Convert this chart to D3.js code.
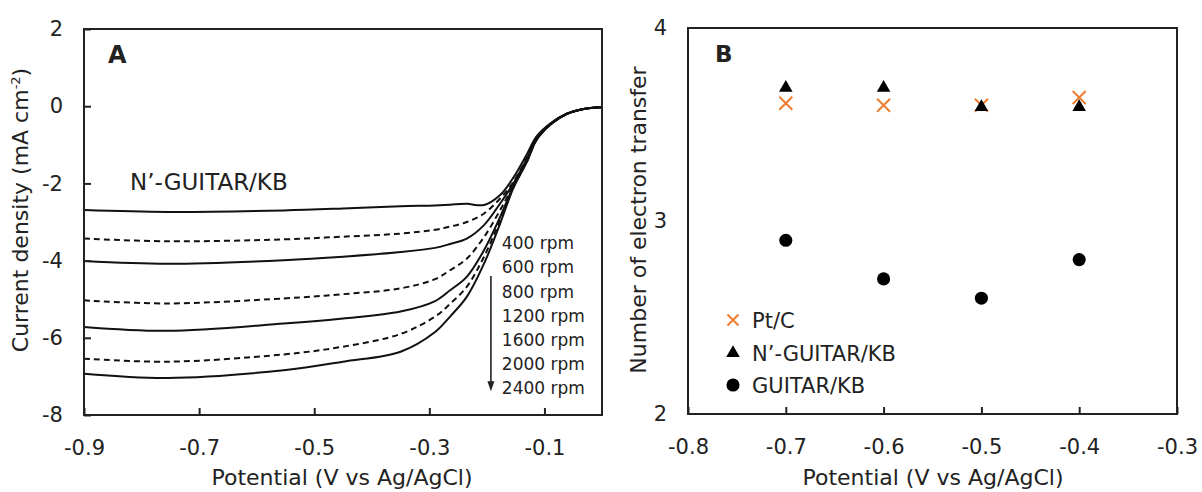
<!DOCTYPE html>
<html>
<head>
<meta charset="utf-8">
<script src="https://cdn.jsdelivr.net/npm/d3@7"></script>
<style>
  body { margin: 0; background: #fff; }
  text { font-family: "DejaVu Sans", sans-serif; fill: #222; }
</style>
</head>
<body>
<div id="chart"></div>
<script>
////////////////////////////////////////////////////////////////////////
// Data

// Panel A: linear sweep voltammograms, one current array per rotation rate
let potentialA = [-0.9, -0.755, -0.553, -0.45, -0.35, -0.29, -0.264, -0.235, -0.205,
                  -0.177, -0.154, -0.13, -0.114, -0.09, -0.061, -0.038, -0.015, 0];
let rpmLabels = ["400 rpm", "600 rpm", "800 rpm", "1200 rpm", "1600 rpm", "2000 rpm", "2400 rpm"];
let current400  = [-2.69, -2.74, -2.70, -2.65, -2.59, -2.57, -2.55, -2.53, -2.56, -2.30, -1.85, -1.23, -0.79, -0.45, -0.19, -0.09, -0.04, -0.03];
let current600  = [-3.43, -3.50, -3.45, -3.38, -3.30, -3.20, -3.12, -3.00, -2.78, -2.39, -1.96, -1.32, -0.83, -0.46, -0.20, -0.09, -0.04, -0.03];
let current800  = [-4.01, -4.08, -3.99, -3.90, -3.78, -3.67, -3.57, -3.43, -3.08, -2.52, -2.00, -1.35, -0.85, -0.47, -0.20, -0.09, -0.04, -0.03];
let current1200 = [-5.03, -5.11, -4.98, -4.87, -4.72, -4.48, -4.25, -3.95, -3.39, -2.69, -2.05, -1.38, -0.86, -0.47, -0.20, -0.09, -0.04, -0.03];
let current1600 = [-5.72, -5.82, -5.63, -5.50, -5.32, -5.05, -4.77, -4.42, -3.73, -2.87, -2.08, -1.40, -0.87, -0.48, -0.20, -0.09, -0.04, -0.03];
let current2000 = [-6.54, -6.62, -6.43, -6.23, -5.90, -5.45, -5.12, -4.68, -3.90, -2.95, -2.10, -1.42, -0.88, -0.48, -0.20, -0.09, -0.04, -0.03];
let current2400 = [-6.93, -7.04, -6.84, -6.62, -6.36, -5.85, -5.45, -4.94, -4.08, -3.04, -2.12, -1.43, -0.88, -0.48, -0.20, -0.09, -0.04, -0.03];
let dashedA = [false, true, false, true, false, true, false];

// Panel B: number of electrons transferred
let potentialB = [-0.7, -0.6, -0.5, -0.4];
let electronsPtC     = [3.61, 3.60, 3.60, 3.64];
let electronsNGuitar = [3.69, 3.69, 3.59, 3.59];
let electronsGuitar  = [2.90, 2.70, 2.60, 2.80];

let xTicksA = [-0.9, -0.7, -0.5, -0.3, -0.1];
let yTicksA = [-8, -6, -4, -2, 0, 2];
let xTicksB = [-0.8, -0.7, -0.6, -0.5, -0.4, -0.3];
let yTicksB = [2, 3, 4];

////////////////////////////////////////////////////////////////////////
// Layout

let width = 1202, height = 492;
let orange = "#ed7d31";

let xA = d3.scaleLinear().domain([-0.9, 0]).range([84, 602]);
let yA = d3.scaleLinear().domain([-8, 2]).range([415, 29]);
let xB = d3.scaleLinear().domain([-0.8, -0.3]).range([688, 1177]);
let yB = d3.scaleLinear().domain([2, 4]).range([414, 28]);

let svg = d3.select("#chart").append("svg")
    .attr("width", width)
    .attr("height", height);

svg.append("rect").attr("width", width).attr("height", height).attr("fill", "#fff");

// draws ticks (inward) and labels for one panel, then the frame on top
function drawAxes(x, y, xTicks, yTicks, yTickLen) {
  let fmtX = d => d.toFixed(1);
  let gx = svg.append("g")
      .attr("transform", "translate(0," + y.range()[0] + ")")
      .call(d3.axisBottom(x).tickValues(xTicks).tickFormat(fmtX)
            .tickSize(-7).tickSizeOuter(0).tickPadding(25));
  let gy = svg.append("g")
      .attr("transform", "translate(" + x.range()[0] + ",0)")
      .call(d3.axisLeft(y).tickValues(yTicks).tickFormat(d => d)
            .tickSize(-yTickLen).tickSizeOuter(0).tickPadding(21));
  [gx, gy].forEach(g => {
    g.select(".domain").remove();
    g.selectAll("line").attr("stroke", "#222").attr("stroke-width", 2);
    g.selectAll("text").attr("font-size", 21).attr("fill", "#222")
      .attr("font-family", "DejaVu Sans, sans-serif");
  });
  svg.append("rect")
      .attr("x", x.range()[0]).attr("y", y.range()[1])
      .attr("width", x.range()[1] - x.range()[0])
      .attr("height", y.range()[0] - y.range()[1])
      .attr("fill", "none").attr("stroke", "#222").attr("stroke-width", 2);
}

////////////////////////////////////////////////////////////////////////
// Panel A

let seriesA = [current400, current600, current800, current1200, current1600, current2000, current2400];

let line = d3.line()
    .x(d => xA(d[0]))
    .y(d => yA(d[1]))
    .curve(d3.curveCatmullRom.alpha(0.5));

svg.append("g").selectAll("path")
    .data(seriesA)
    .enter()
    .append("path")
    .attr("d", (cur) => line(potentialA.map((p, i) => [p, cur[i]])))
    .attr("fill", "none")
    .attr("stroke", "#111")
    .attr("stroke-width", 2)
    .attr("stroke-dasharray", (d, i) => dashedA[i] ? "6,4" : null);

drawAxes(xA, yA, xTicksA, yTicksA, 7);

svg.append("text")
    .attr("x", xA(-0.82)).attr("y", yA(-2.18))
    .attr("font-size", 23)
    .text("N\u2019-GUITAR/KB");

svg.append("text")
    .attr("x", 108).attr("y", 63)
    .attr("font-size", 24).attr("font-weight", "bold")
    .text("A");

// rotation rate labels + arrow
svg.append("g").selectAll("text")
    .data(rpmLabels)
    .enter()
    .append("text")
    .attr("x", xA(-0.174))
    .attr("y", (d, i) => yA(-3.55 - i * 0.625))
    .attr("dy", "0.36em")
    .attr("font-size", 17)
    .text(d => d);

let arrowX = xA(-0.193), arrowY0 = yA(-4.4), arrowY1 = yA(-7.15);
svg.append("line")
    .attr("x1", arrowX).attr("x2", arrowX)
    .attr("y1", arrowY0).attr("y2", arrowY1)
    .attr("stroke", "#222").attr("stroke-width", 1.6);

svg.append("path")
    .attr("d", "M" + (arrowX - 3.5) + "," + (arrowY1 - 1) + "L" + (arrowX + 3.5) + "," + (arrowY1 - 1) +
               "L" + arrowX + "," + (arrowY1 + 9) + "Z")
    .attr("fill", "#222");

svg.append("text")
    .attr("x", 342).attr("y", 485)
    .attr("text-anchor", "middle")
    .attr("font-size", 22)
    .text("Potential (V vs Ag/AgCl)");

let yLabA = svg.append("text")
    .attr("transform", "translate(28,210) rotate(-90)")
    .attr("text-anchor", "middle")
    .attr("font-size", 22);
yLabA.append("tspan").text("Current density (mA cm");
yLabA.append("tspan").attr("font-size", 13).attr("dy", -8).text("-2");
yLabA.append("tspan").attr("dy", 8).text(")");

////////////////////////////////////////////////////////////////////////
// Panel B

drawAxes(xB, yB, xTicksB, yTicksB, 0);

function crossPath(size) {
  let h = size / 2;
  return "M" + (-h) + "," + (-h) + "L" + h + "," + h + "M" + (-h) + "," + h + "L" + h + "," + (-h);
}

let triangle = d3.symbol().type(d3.symbolTriangle).size(80);
let circle = d3.symbol().type(d3.symbolCircle).size(135);

svg.append("g").selectAll("path")
    .data(potentialB)
    .enter()
    .append("path")
    .attr("transform", (d, i) => "translate(" + xB(d) + "," + yB(electronsPtC[i]) + ")")
    .attr("d", crossPath(13))
    .attr("stroke", orange).attr("stroke-width", 2).attr("fill", "none");

svg.append("g").selectAll("path")
    .data(potentialB)
    .enter()
    .append("path")
    .attr("transform", (d, i) => "translate(" + xB(d) + "," + yB(electronsNGuitar[i]) + ")")
    .attr("d", triangle)
    .attr("fill", "#000");

svg.append("g").selectAll("path")
    .data(potentialB)
    .enter()
    .append("path")
    .attr("transform", (d, i) => "translate(" + xB(d) + "," + yB(electronsGuitar[i]) + ")")
    .attr("d", circle)
    .attr("fill", "#000");

svg.append("text")
    .attr("x", 715).attr("y", 62)
    .attr("font-size", 23).attr("font-weight", "bold")
    .text("B");

// legend
let legend = svg.append("g").attr("transform", "translate(733,320)");
let legendNames = ["Pt/C", "N\u2019-GUITAR/KB", "GUITAR/KB"];
legend.append("path").attr("d", crossPath(11))
    .attr("stroke", orange).attr("stroke-width", 2).attr("fill", "none");
legend.append("path").attr("transform", "translate(0,33)").attr("d", triangle);
legend.append("path").attr("transform", "translate(0,65)").attr("d", circle);
legend.selectAll("text")
    .data(legendNames)
    .enter()
    .append("text")
    .attr("x", 19)
    .attr("y", (d, i) => [0, 33, 65][i])
    .attr("dy", "0.36em")
    .attr("font-size", 21)
    .text(d => d);

svg.append("text")
    .attr("x", 933).attr("y", 485)
    .attr("text-anchor", "middle")
    .attr("font-size", 22)
    .text("Potential (V vs Ag/AgCl)");

svg.append("text")
    .attr("transform", "translate(646,220) rotate(-90)")
    .attr("text-anchor", "middle")
    .attr("font-size", 22)
    .text("Number of electron transfer");
</script>
</body>
</html>
